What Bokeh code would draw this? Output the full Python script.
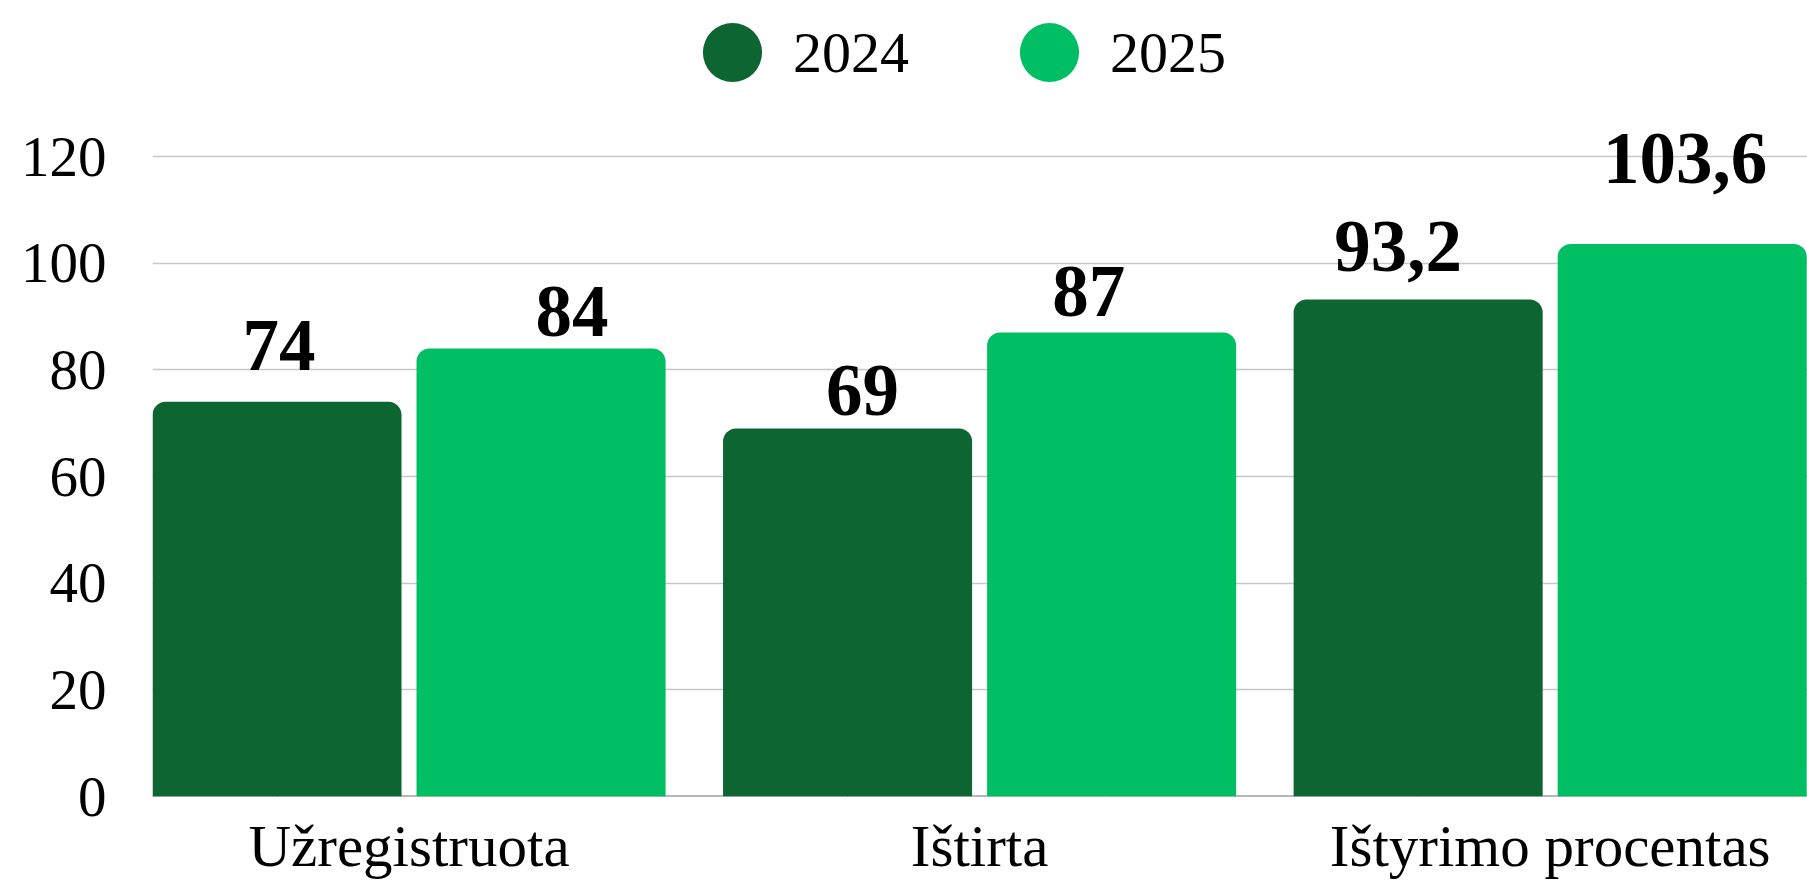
from bokeh.plotting import figure
from bokeh.models import (ColumnDataSource, Range1d, FixedTicker, Legend, LegendItem, Span)
from bokeh.core.properties import value
from bokeh.embed import file_html
from bokeh.resources import INLINE

# ---- data ----
categories = ["Užregistruota", "Ištirta", "Ištyrimo procentas"]
series_names = ["2024", "2025"]
values_2024 = [74, 69, 93.2]
values_2025 = [84, 87, 103.6]
labels_2024 = ["74", "69", "93,2"]
labels_2025 = ["84", "87", "103,6"]
y_ticks = [0, 20, 40, 60, 80, 100, 120]

# ---- style ----
C2024 = "#0D6632"
C2025 = "#00BE64"
SERIF = "Liberation Serif"
DODGE = 0.2314
BAR_W = 0.4365
# label placement tweaks (screen px) to mimic the original annotation placement
lab_dx_2024 = [2, 15, -20]
lab_dy_2024 = [-56, -38, -53]
lab_dx_2025 = [31, -23, 3]
lab_dy_2025 = [-37, -41, -85]

p = figure(width=1807, height=881, output_backend="svg", toolbar_location=None,
           x_range=Range1d(-0.4496, 2.451), y_range=Range1d(0, 149.25),
           min_border_left=152, min_border_right=0, min_border_top=0, min_border_bottom=85)
p.outline_line_color = None
p.background_fill_color = "white"
p.border_fill_color = "white"

xs = list(range(len(categories)))
src24 = ColumnDataSource(dict(x=[i - DODGE for i in xs], top=values_2024, lab=labels_2024,
                              dx=lab_dx_2024, dy=lab_dy_2024))
src25 = ColumnDataSource(dict(x=[i + DODGE for i in xs], top=values_2025, lab=labels_2025,
                              dx=lab_dx_2025, dy=lab_dy_2025))

# legend proxies: 1px round dots hidden under the bars; the legend draws them as large circles
l24 = p.ellipse(x="x", y=0, width=1, height=1, width_units="screen", height_units="screen",
                source=src24, fill_color=C2024, line_color=None, level="underlay")
l25 = p.ellipse(x="x", y=0, width=1, height=1, width_units="screen", height_units="screen",
                source=src25, fill_color=C2025, line_color=None, level="underlay")

p.add_layout(Span(location=0, dimension="width", line_color="#707070", line_width=2, level="underlay"))

r24 = p.vbar(x="x", top="top", bottom=0, width=BAR_W, source=src24, fill_color=C2024,
             line_color=None, border_radius=(13, 13, 0, 0))
r25 = p.vbar(x="x", top="top", bottom=0, width=BAR_W, source=src25, fill_color=C2025,
             line_color=None, border_radius=(13, 13, 0, 0))

for src in (src24, src25):
    p.text(x="x", y="top", text="lab", x_offset="dx", y_offset="dy", source=src,
           text_font=value(SERIF), text_font_size="73px", text_font_style="bold",
           text_color="black", text_align="center", text_baseline="alphabetic")

legend = Legend(items=[LegendItem(label=series_names[0], renderers=[l24], index=0),
                       LegendItem(label=series_names[1], renderers=[l25], index=0)],
                orientation="horizontal", location=(543, 707),
                glyph_width=74, glyph_height=74, label_standoff=24, spacing=103,
                padding=0, margin=0, border_line_color=None, background_fill_alpha=0,
                label_text_font=SERIF, label_text_font_size="58px", label_text_color="black",
                label_height=60)
p.add_layout(legend, "center")

# axes
p.yaxis.ticker = FixedTicker(ticks=y_ticks)
p.yaxis.major_label_text_font = SERIF
p.yaxis.major_label_text_font_size = "57px"
p.yaxis.major_label_text_color = "black"
p.yaxis.axis_line_color = None
p.yaxis.major_tick_line_color = None
p.yaxis.minor_tick_line_color = None
p.yaxis.major_tick_out = 0
p.yaxis.major_label_standoff = 46

p.xaxis.ticker = FixedTicker(ticks=xs)
p.xaxis.major_label_overrides = {i: c for i, c in zip(xs, categories)}
p.xaxis.major_label_text_font = SERIF
p.xaxis.major_label_text_font_size = "59px"
p.xaxis.major_label_text_color = "black"
p.xaxis.axis_line_color = None
p.xaxis.major_tick_line_color = None
p.xaxis.minor_tick_line_color = None
p.xaxis.major_tick_out = 0
p.xaxis.major_label_standoff = 16

p.xgrid.grid_line_color = None
p.ygrid.ticker = FixedTicker(ticks=y_ticks)
p.ygrid.grid_line_color = "#c8c8c8"
p.ygrid.grid_line_width = 1.5

open("out.html", "w").write(file_html(p, INLINE))
